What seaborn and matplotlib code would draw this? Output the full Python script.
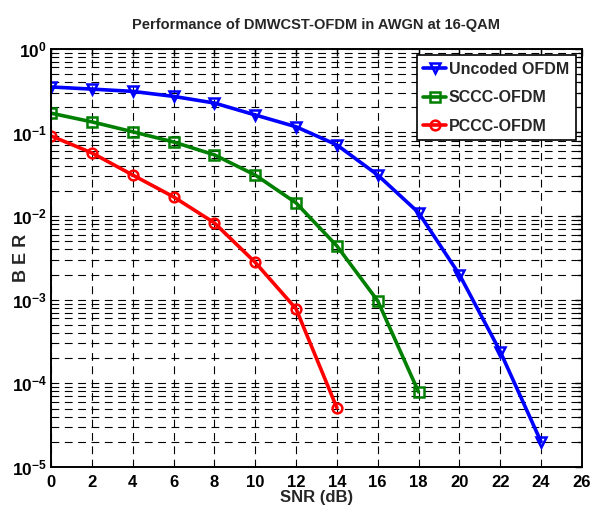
import matplotlib
matplotlib.use("Agg")
import matplotlib.pyplot as plt
import matplotlib.ticker as mticker
import seaborn as sns
import pandas as pd
import numpy as np

snr_uncoded = [0, 2, 4, 6, 8, 10, 12, 14, 16, 18, 20, 22, 24]
ber_uncoded = [0.35, 0.33, 0.31, 0.27, 0.225, 0.162, 0.117, 0.071, 0.031, 0.011, 0.002, 0.00024, 2.0e-5]
snr_sccc = [0, 2, 4, 6, 8, 10, 12, 14, 16, 18]
ber_sccc = [0.17, 0.134, 0.102, 0.077, 0.054, 0.031, 0.0144, 0.0044, 0.00097, 7.9e-5]
snr_pccc = [0, 2, 4, 6, 8, 10, 12, 14]
ber_pccc = [0.091, 0.057, 0.031, 0.017, 0.0083, 0.0028, 0.00078, 5.1e-5]
series_names = ["Uncoded OFDM", "SCCC-OFDM", "PCCC-OFDM"]
x_ticks = list(range(0, 27, 2))

df = pd.concat([
    pd.DataFrame({"SNR": snr_uncoded, "BER": ber_uncoded, "Scheme": series_names[0]}),
    pd.DataFrame({"SNR": snr_sccc, "BER": ber_sccc, "Scheme": series_names[1]}),
    pd.DataFrame({"SNR": snr_pccc, "BER": ber_pccc, "Scheme": series_names[2]}),
])

sns.set_style("white")
plt.rcParams['font.family'] = ['Liberation Sans', 'DejaVu Sans']
plt.rcParams['font.weight'] = 'bold'
plt.rcParams['mathtext.fontset'] = 'custom'
plt.rcParams['mathtext.rm'] = 'Liberation Sans:bold'
plt.rcParams['mathtext.bf'] = 'Liberation Sans:bold'
plt.rcParams['mathtext.it'] = 'Liberation Sans:bold'
plt.rcParams['mathtext.default'] = 'bf'

fig = plt.figure(figsize=(5.95, 5.14), dpi=100)
ax = fig.add_axes([0.0857, 0.0914, 0.8923, 0.8136])

palette = {series_names[0]: "#0000ff", series_names[1]: "#007f00", series_names[2]: "#ff0000"}
markers = {series_names[0]: "v", series_names[1]: "s", series_names[2]: "o"}

for name in series_names:
    sub = df[df["Scheme"] == name]
    sns.lineplot(data=sub, x="SNR", y="BER", ax=ax, color=palette[name],
                 marker=markers[name], markersize=7, markerfacecolor="none",
                 markeredgecolor=palette[name], markeredgewidth=1.8,
                 linewidth=2.6, label=name)

ax.set_yscale("log")
ax.set_xlim(0, 26)
ax.set_ylim(1e-5, 1)
ax.set_xticks(x_ticks)
ax.set_xticklabels([str(t) for t in x_ticks], fontsize=12, fontweight="bold")
ax.yaxis.set_major_locator(mticker.LogLocator(base=10, numticks=10))
ax.yaxis.set_minor_locator(mticker.LogLocator(base=10, subs=np.arange(2, 10), numticks=20))
ax.yaxis.set_minor_formatter(mticker.NullFormatter())
ax.yaxis.set_major_formatter(mticker.FuncFormatter(lambda v, p: r"$10^{%d}$" % int(round(np.log10(v)))))
for lbl in ax.get_yticklabels():
    lbl.set_fontsize(12.5)

ax.grid(True, which="major", axis="both", color="black", linestyle=(0, (7, 5)), linewidth=0.8)
ax.grid(True, which="minor", axis="y", color="black", linestyle=(0, (7, 5)), linewidth=0.8)
ax.tick_params(which="both", direction="in", top=True, right=True, length=5, width=1, colors="black")
ax.tick_params(which="minor", length=3)
ax.tick_params(axis="x", pad=6)
ax.tick_params(axis="y", pad=3)
for s in ax.spines.values():
    s.set_color("black")
    s.set_linewidth(1.4)

ax.set_xlabel("SNR (dB)", fontsize=12, fontweight="bold", labelpad=0)
ax.set_ylabel("B E R", fontsize=13, fontweight="bold")
ax.yaxis.set_label_coords(-0.04, 0.5)
ax.set_title("Performance of DMWCST-OFDM in AWGN at 16-QAM", fontsize=10.5, fontweight="bold", pad=14)

leg = ax.legend(loc="upper right", fontsize=11.5, frameon=True, fancybox=False,
                edgecolor="black", framealpha=1, handlelength=1.4, handletextpad=0.2,
                borderpad=0.4, labelspacing=0.85, borderaxespad=0.4)
leg.get_frame().set_linewidth(1.2)
for t in leg.get_texts():
    t.set_fontweight("bold")

fig.savefig("out.png", dpi=100)
